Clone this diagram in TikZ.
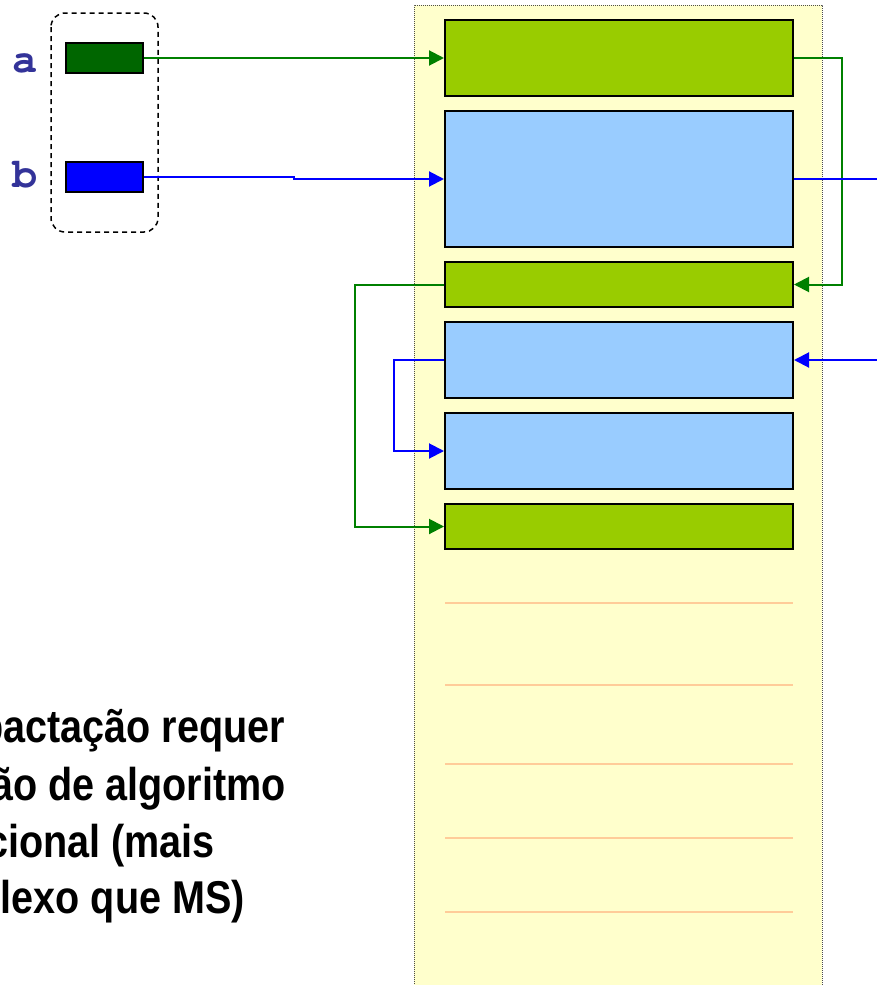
\documentclass[tikz,border=0pt]{standalone}
\usepackage{fontspec}
\usetikzlibrary{arrows.meta}
\newfontfamily\cursorfont{texgyrecursor-bold.otf}
\newfontfamily\narrowfont[FakeStretch=0.86]{Liberation Sans}
\definecolor{lime}{HTML}{99CC00}
\definecolor{sky}{HTML}{99CCFF}
\definecolor{heapbg}{HTML}{FFFFCC}
\definecolor{freeline}{HTML}{FFCC99}
\definecolor{darkgreen}{HTML}{006600}
\definecolor{ptrgreen}{HTML}{008000}
\definecolor{ptrblue}{HTML}{0000FF}
\definecolor{varblue}{HTML}{333399}
\tikzstyle{cell} = [draw=black, line width=2pt, minimum width=348pt, inner sep=0pt]
\tikzstyle{var} = [draw=black, line width=2pt, minimum width=77pt, minimum height=30pt, inner sep=0pt]
\tikzstyle{varname} = [text=varblue, font=\cursorfont\fontsize{42}{42}\selectfont, anchor=base, inner sep=0pt]
\tikzstyle{note} = [font=\narrowfont\bfseries\fontsize{46}{46}\selectfont, anchor=base east, inner sep=0pt]
\tikzstyle{gptr} = [draw=ptrgreen, line width=2pt, -{Triangle[length=15pt,width=15pt]}]
\tikzstyle{bptr} = [draw=ptrblue, line width=2pt, -{Triangle[length=15pt,width=15pt]}]

\begin{document}
\begin{tikzpicture}[x=1pt, y=-1pt]
\useasboundingbox (0,0) rectangle (876,985);
% heap
\fill[heapbg] (414,5) rectangle (822,990);
\draw[black!70, densely dotted, line width=1pt] (414,990) -- (414,5) -- (822,5) -- (822,990);
\foreach \y in {603,685,764,838,912}
	\draw[freeline, line width=1.5pt] (445,\y) -- (793,\y);
% blocks
\node[cell, fill=lime, minimum height=76pt] (m1) at (619,58) {};
\node[cell, fill=sky, minimum height=136pt] (m2) at (619,179) {};
\node[cell, fill=lime, minimum height=45pt] (m3) at (619,284.5) {};
\node[cell, fill=sky, minimum height=76pt] (m4) at (619,360) {};
\node[cell, fill=sky, minimum height=76pt] (m5) at (619,451) {};
\node[cell, fill=lime, minimum height=45pt] (m6) at (619,526.5) {};
% roots
\node[var, fill=darkgreen] (a) at (104.5,58) {};
\node[var, fill=ptrblue] (b) at (104.5,177) {};
\node[varname] (na) at (25,72) {a};
\node[varname] (nb) at (25,187) {b};
\draw[dash pattern=on 5pt off 4pt, line width=1.5pt, rounded corners=14pt] (51,13) rectangle (158,232);
\coordinate (outb) at (880,179);
\coordinate (inb) at (880,360);
% pointers
\draw[gptr] (a.east) -- ++(150,0) |- (m1.west);
\draw[bptr] (b.east) -- ++(150,0) |- (m2.west);
\draw[gptr] (m1.east) -- ++(48,0) |- (m3.east);
\draw[ptrblue, line width=2pt] (m2.east) -- (outb);
\draw[bptr] (inb) -- (m4.east);
\draw[gptr] (m3.west) -- ++(-89,0) |- (m6.west);
\draw[bptr] (m4.west) -- ++(-50,0) |- (m5.west);
% text
\node[note] (t1) at (285,742) {pactação requer};
\node[note] (t2) at (286,800) {ão de algoritmo};
\node[note] (t3) at (215,857) {cional (mais};
\node[note] (t4) at (245,913) {plexo que MS)};
\end{tikzpicture}
\end{document}
